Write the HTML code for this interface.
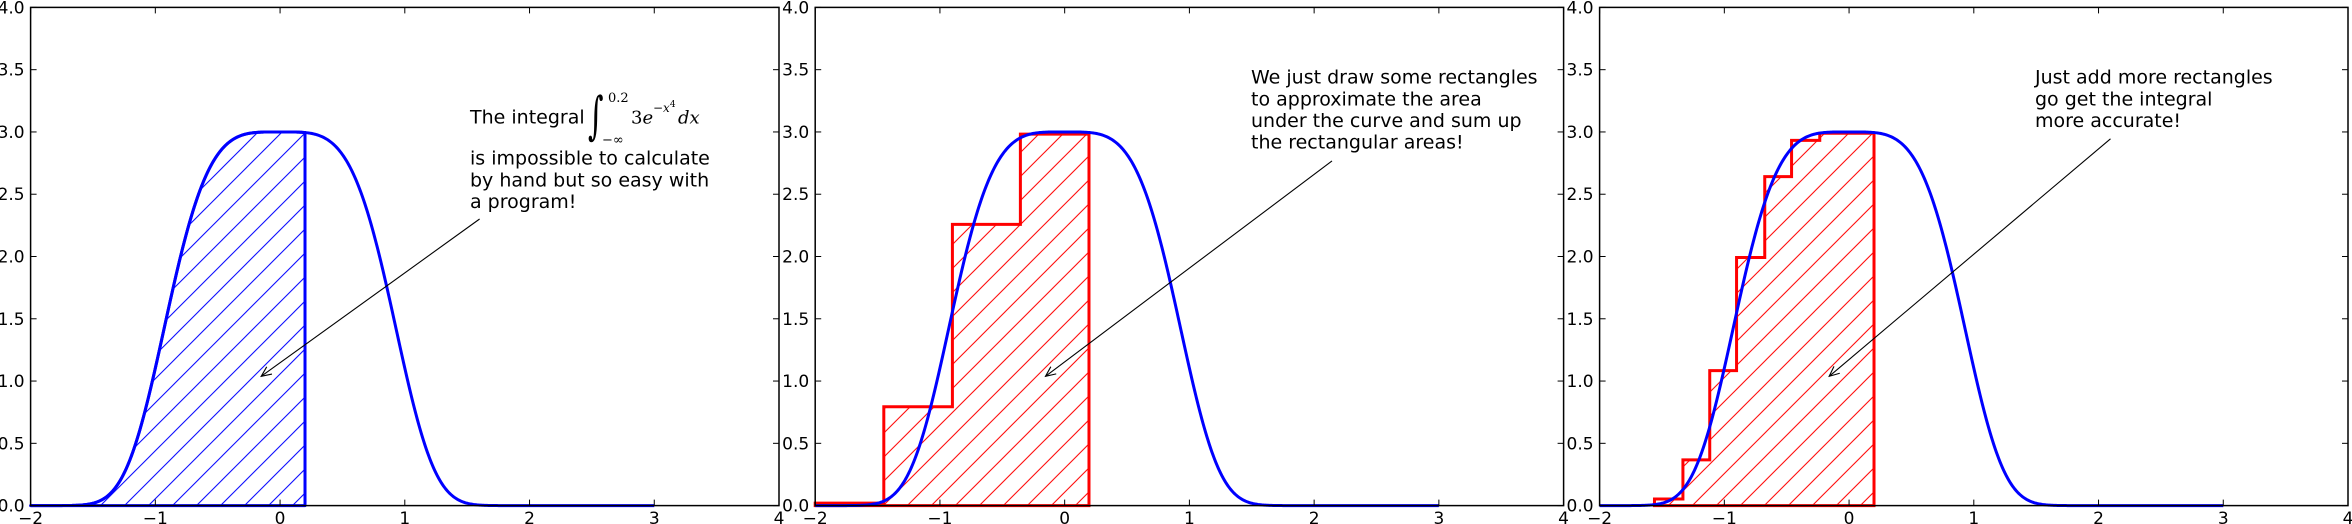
<!DOCTYPE html>
<html><head><meta charset="utf-8">
<style>
html,body{margin:0;padding:0;background:#fff;}
svg{display:block;}
text{font-family:"DejaVu Sans","Liberation Sans",sans-serif;font-size:17px;fill:#000;}
.t{font-size:19px;}
.m{font-family:"DejaVu Serif","Liberation Serif",serif;font-style:italic;}
</style></head>
<body>
<svg id="s" width="2352" height="524" viewBox="0 0 2352 524" xmlns="http://www.w3.org/2000/svg">
<defs>
<pattern id="hb" patternUnits="userSpaceOnUse" width="24" height="24" x="6.1" y="0">
<line x1="-2" y1="26" x2="26" y2="-2" stroke="#0000ff" stroke-width="1"/>
<line x1="-2" y1="2" x2="2" y2="-2" stroke="#0000ff" stroke-width="1"/>
<line x1="22" y1="26" x2="26" y2="22" stroke="#0000ff" stroke-width="1"/>
</pattern>
<pattern id="hr2" patternUnits="userSpaceOnUse" width="24" height="24" x="20.9" y="0">
<line x1="-2" y1="26" x2="26" y2="-2" stroke="#ff0000" stroke-width="1"/>
<line x1="-2" y1="2" x2="2" y2="-2" stroke="#ff0000" stroke-width="1"/>
<line x1="22" y1="26" x2="26" y2="22" stroke="#ff0000" stroke-width="1"/>
</pattern>
<pattern id="hr3" patternUnits="userSpaceOnUse" width="24" height="24" x="13.9" y="0">
<line x1="-2" y1="26" x2="26" y2="-2" stroke="#ff0000" stroke-width="1"/>
<line x1="-2" y1="2" x2="2" y2="-2" stroke="#ff0000" stroke-width="1"/>
<line x1="22" y1="26" x2="26" y2="22" stroke="#ff0000" stroke-width="1"/>
</pattern>
</defs>
<g id="plots"></g>
<g id="axes"></g>
<!-- Panel 1 text -->
<text x="470" y="123.3" class="t">The integral</text>
<text x="0" y="0" class="m" style="font-size:30px;font-style:normal" transform="translate(588,133) scale(1,1.7)">∫</text>
<text x="608" y="102" class="m" style="font-size:13px;font-style:normal">0.2</text>
<text x="602" y="144" class="m" style="font-size:13px;font-style:normal">−∞</text>
<text x="631" y="123.3" class="m" style="font-size:18px;font-style:normal">3<tspan font-style="italic">e</tspan></text>
<text x="653" y="112" class="m" style="font-size:12px">−x<tspan dy="-5" style="font-size:9px;font-style:normal">4</tspan></text>
<text x="678" y="123.3" class="m" style="font-size:18px">dx</text>
<text x="470" y="164.6" class="t">is impossible to calculate</text>
<text x="470" y="186.3" class="t">by hand but so easy with</text>
<text x="470" y="208" class="t">a program!</text>
<!-- Panel 2 text -->
<text x="1251" y="83.6" class="t">We just draw some rectangles</text>
<text x="1251" y="105.3" class="t">to approximate the area</text>
<text x="1251" y="127" class="t">under the curve and sum up</text>
<text x="1251" y="148.7" class="t">the rectangular areas!</text>
<!-- Panel 3 text -->
<text x="2035" y="83.6" class="t">Just add more rectangles</text>
<text x="2035" y="105.3" class="t">go get the integral</text>
<text x="2035" y="127" class="t">more accurate!</text>
</svg>
<script>
(function(){
var NS="http://www.w3.org/2000/svg";
var L=[30.6,815.2,1599.6],W=748.4,sx=W/6,Y0=505.6,sy=124.55;
function X(i,x){return L[i]+(x+2)*sx;}
function Yv(y){return Y0-y*sy;}
function f(x){return 3*Math.exp(-Math.pow(x,4));}
var plots=document.getElementById('plots'),axes=document.getElementById('axes');
function el(p,tag,a,txt){var e=document.createElementNS(NS,tag);for(var k in a)e.setAttribute(k,a[k]);if(txt!==undefined)e.textContent=txt;p.appendChild(e);return e;}
function curve(i,a,b){var d="";for(var k=0;k<=500;k++){var x=a+(b-a)*k/500;d+=(k?"L":"M")+X(i,x).toFixed(2)+","+Yv(f(x)).toFixed(2);}return d;}
// Panel 1
var d1=curve(0,-2,0.2)+"L"+X(0,0.2)+","+Yv(0)+"L"+X(0,-2)+","+Yv(0)+"Z";
el(plots,'path',{d:d1,fill:'url(#hb)',stroke:'#0000ff','stroke-width':3,'stroke-linejoin':'round'});
el(plots,'path',{d:curve(0,-2,3),fill:'none',stroke:'#0000ff','stroke-width':3});
function steps(i,edges,h,pat){
 var d="M"+X(i,edges[0])+","+Yv(0);
 for(var k=0;k<h.length;k++){d+="L"+X(i,edges[k])+","+Yv(h[k])+"L"+X(i,edges[k+1])+","+Yv(h[k]);}
 d+="L"+X(i,edges[edges.length-1])+","+Yv(0)+"Z";
 el(plots,'path',{d:d,fill:'url(#'+pat+')',stroke:'#ff0000','stroke-width':3,'stroke-linejoin':'miter'});
}
steps(1,[-2,-1.45,-0.9,-0.355,0.195],[0.02,0.794,2.258,2.983],'hr2');
el(plots,'path',{d:curve(1,-2,3),fill:'none',stroke:'#0000ff','stroke-width':3});
var e3=[-1.56,-1.332,-1.117,-0.902,-0.676,-0.461,-0.235,-0.02,0.2];
steps(2,e3,[0.053,0.367,1.084,1.992,2.641,2.932,2.99,2.99],'hr3');
el(plots,'path',{d:curve(2,-2,3),fill:'none',stroke:'#0000ff','stroke-width':3});
function arrow(x1,y1,x2,y2){
 el(plots,'line',{x1:x1,y1:y1,x2:x2,y2:y2,stroke:'#000','stroke-width':1.1});
 var ang=Math.atan2(y1-y2,x1-x2),len=11,sp=0.42;
 var d="M"+(x2+len*Math.cos(ang+sp))+","+(y2+len*Math.sin(ang+sp))+"L"+x2+","+y2+"L"+(x2+len*Math.cos(ang-sp))+","+(y2+len*Math.sin(ang-sp));
 el(plots,'path',{d:d,fill:'none',stroke:'#000','stroke-width':1.1});
}
arrow(479.6,219,261.2,376.3);
arrow(1332,160.9,1045.5,376.3);
arrow(2110.5,138.8,1829.2,376.3);
for(var i=0;i<3;i++){
 var l=L[i],r=L[i]+W,t=Yv(4);
 for(var v=0;v<=4.001;v+=0.5){var y=Yv(v);
  el(axes,'line',{x1:l,y1:y,x2:l+6,y2:y,stroke:'#000','stroke-width':1});
  el(axes,'line',{x1:r,y1:y,x2:r-6,y2:y,stroke:'#000','stroke-width':1});
  el(axes,'text',{x:l-6,y:y+6,'text-anchor':'end'},v.toFixed(1));
 }
 for(var xv=-2;xv<=4;xv++){var x=X(i,xv);
  el(axes,'line',{x1:x,y1:Y0,x2:x,y2:Y0-6,stroke:'#000','stroke-width':1});
  el(axes,'line',{x1:x,y1:t,x2:x,y2:t+6,stroke:'#000','stroke-width':1});
  el(axes,'text',{x:x,y:524,'text-anchor':'middle'},(xv<0?'\u2212':'')+Math.abs(xv));
 }
 el(axes,'rect',{x:l,y:t,width:W,height:Y0-t,fill:'none',stroke:'#000','stroke-width':1.5});
}
})();
</script>
</body></html>
